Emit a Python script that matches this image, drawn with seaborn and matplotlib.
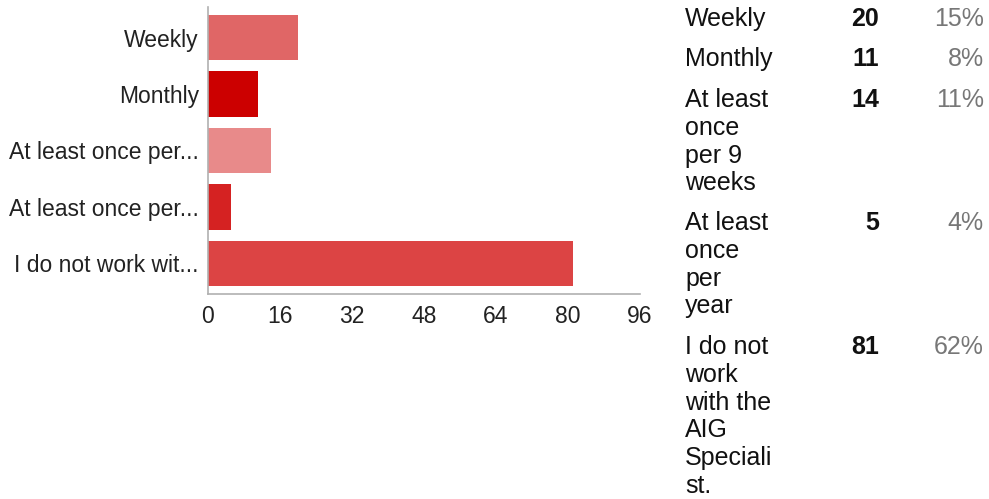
import matplotlib
matplotlib.use("Agg")
import matplotlib.pyplot as plt
import seaborn as sns
import pandas as pd

# Veri
categories = ["Weekly", "Monthly", "At least once per 9 weeks",
              "At least once per year", "I do not work with the AIG Specialist."]
short_labels = ["Weekly", "Monthly", "At least once per...",
                "At least once per...", "I do not work wit..."]
counts = [20, 11, 14, 5, 81]
percents = ["15%", "8%", "11%", "4%", "62%"]
wrapped = [["Weekly"], ["Monthly"], ["At least", "once", "per 9", "weeks"],
           ["At least", "once", "per", "year"],
           ["I do not", "work", "with the", "AIG", "Speciali", "st."]]
colors = ["#e06666", "#cc0000", "#e88a8a", "#d52222", "#dc4444"]
xticks = [0, 16, 32, 48, 64, 80, 96]

df = pd.DataFrame({"category": categories, "count": counts})

sns.set_style("white")
plt.rcParams["font.family"] = ["Liberation Sans", "DejaVu Sans"]

W, H = 989, 499
fig = plt.figure(figsize=(W / 100, H / 100), dpi=100)
ax = fig.add_axes([208 / W, 1 - 294 / H, (640 - 208) / W, (294 - 7) / H])

sns.barplot(data=df, y="category", x="count", hue="category", palette=colors,
            saturation=1, orient="h", width=0.8, legend=False, ax=ax,
            edgecolor="none")

ax.set_xlim(0, 96)
ax.set_ylim(4.54, -0.54)
ax.set_xticks(xticks)
ax.set_yticks(range(len(categories)))
ax.set_yticklabels(short_labels)
ax.set_xlabel("")
ax.set_ylabel("")
for s in ["top", "right"]:
    ax.spines[s].set_visible(False)
for s in ["left", "bottom"]:
    ax.spines[s].set_color("#b0b0b0")
    ax.spines[s].set_linewidth(1.2)
ax.tick_params(axis="both", colors="#b0b0b0", length=5, width=1.2,
               labelcolor="#222222", labelsize=16.5)
ax.tick_params(axis="x", pad=3)
ax.tick_params(axis="y", pad=1.5)

# Sağdaki tablo
row_base = [26, 66, 107, 230, 354]
pitch = 27.8
for i, lines in enumerate(wrapped):
    for j, line in enumerate(lines):
        fig.text(685 / W, 1 - (row_base[i] + j * pitch) / H, line,
                 fontsize=18, color="#111111", ha="left", va="baseline")
    fig.text(879 / W, 1 - row_base[i] / H, str(counts[i]),
             fontsize=18, fontweight="bold", color="#111111",
             ha="right", va="baseline")
    fig.text(984 / W, 1 - row_base[i] / H, percents[i],
             fontsize=18, color="#777777", ha="right", va="baseline")

fig.savefig("out.png", dpi=100)
